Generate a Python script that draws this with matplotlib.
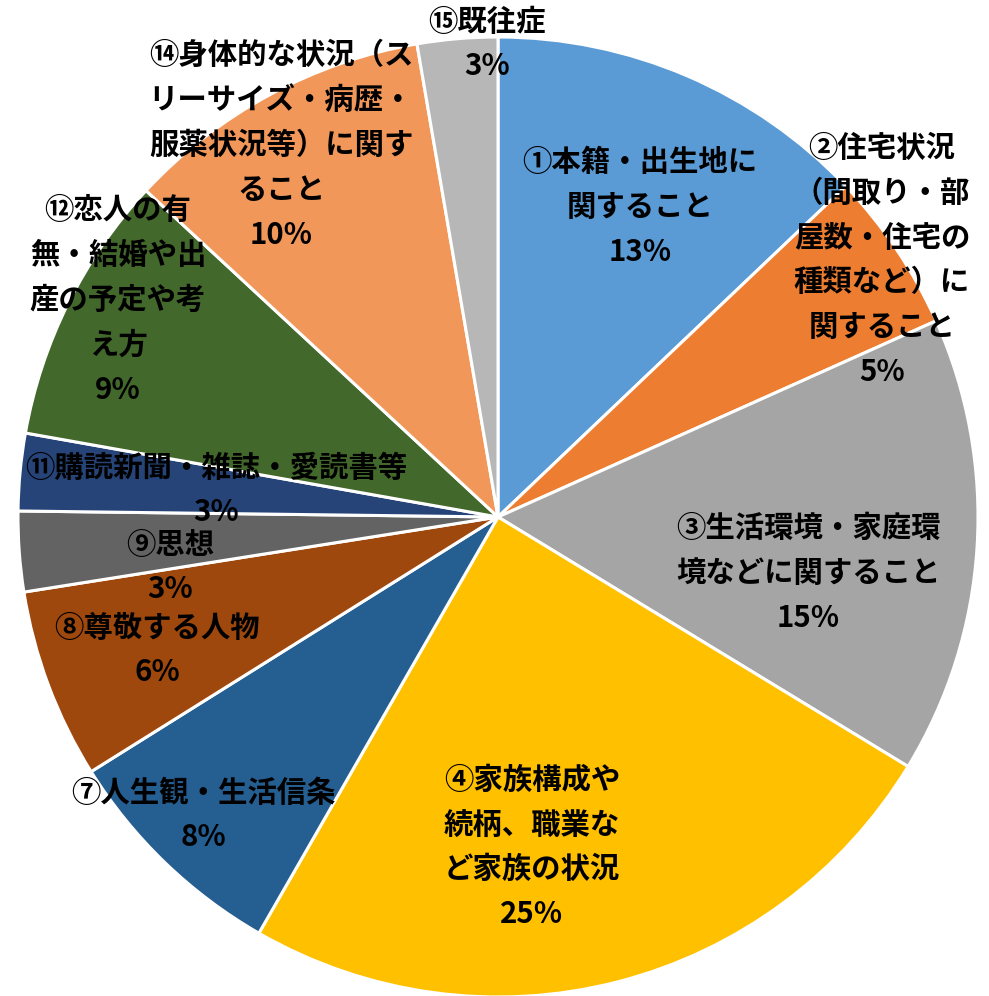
import numpy as np
import matplotlib
matplotlib.use('Agg')
import matplotlib.pyplot as plt

plt.rcParams['font.family'] = ['Noto Sans CJK JP', 'DejaVu Sans']

# categories (clockwise from 12 o'clock) and shares in percent
categories = [
    '①本籍・出生地に\n関すること',
    '②住宅状況\n（間取り・部\n屋数・住宅の\n種類など）に\n関すること',
    '③生活環境・家庭環\n境などに関すること',
    '④家族構成や\n続柄、職業な\nど家族の状況',
    '⑦人生観・生活信条',
    '⑧尊敬する人物',
    '⑨思想',
    '⑪購読新聞・雑誌・愛読書等',
    '⑫恋人の有\n無・結婚や出\n産の予定や考\nえ方',
    '⑭身体的な状況（ス\nリーサイズ・病歴・\n服薬状況等）に関す\nること',
    '⑮既往症',
]
values = [12.9, 5.4, 15.4, 24.6, 7.8, 6.4, 2.7, 2.6, 9.1, 10.4, 2.7]
colors = ['#5B9BD5', '#ED7D31', '#A5A5A5', '#FFC000', '#255E91', '#9E480E',
          '#636363', '#264478', '#43682B', '#F1975A', '#B7B7B7']

# label block centres in pixels of the original layout
label_px = [(640, 207), (882, 260), (808, 573), (532, 847), (203, 815), (157, 650),
            (170, 567), (216, 490), (118, 300), (281, 145), (487, 44)]

W, H = 989, 996
cx, cy, R = 498, 517, 480

fig = plt.figure(figsize=(W / 100, H / 100), dpi=100)
ax = fig.add_axes([(cx - R) / W, (H - cy - R) / H, 2 * R / W, 2 * R / H])

ax.pie(values, colors=colors, startangle=90, counterclock=False, radius=1,
       wedgeprops=dict(edgecolor='white', linewidth=2.2))
ax.set_xlim(-1, 1)
ax.set_ylim(-1, 1)
ax.axis('off')

total = sum(values)
for cat, v, (px, py) in zip(categories, values, label_px):
    pct = f'{int(v / total * 100 + 0.5)}%'
    ax.text((px - cx) / R, (cy - py) / R, cat + '\n' + pct, ha='center', va='center',
            fontsize=21.2, fontweight='bold', color='black', linespacing=1.62,
            multialignment='center', clip_on=False)

fig.savefig('out.png', dpi=100)
